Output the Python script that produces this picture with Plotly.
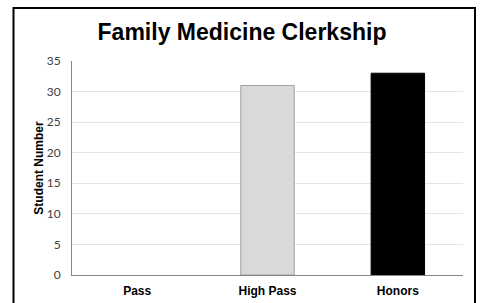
import plotly.graph_objects as go

categories = ["Pass", "High Pass", "Honors"]
values = [0, 31, 33]
bar_colors = ["#d9d9d9", "#d9d9d9", "#000000"]
line_colors = ["#a0a0a0", "#a0a0a0", "#000000"]
line_widths = [0, 1, 1]
y_ticks = [0, 5, 10, 15, 20, 25, 30, 35]

fig = go.Figure(go.Bar(
    x=categories, y=values,
    marker=dict(color=bar_colors, line=dict(color=line_colors, width=line_widths)),
))

fig.update_layout(
    width=480, height=303,
    margin=dict(l=72, r=17, t=61, b=28, autoexpand=False),
    paper_bgcolor="white", plot_bgcolor="white",
    bargap=0.59,
    showlegend=False,
    title=dict(text="<b>Family Medicine Clerkship</b>", x=242 / 480, xanchor="center",
               y=1 - 32 / 303, yanchor="middle", automargin=False,
               font=dict(family="Liberation Sans, Arial", size=23, color="#000000")),
    xaxis=dict(showline=True, linecolor="#868686", linewidth=1, ticks="", automargin=False,
               tickfont=dict(family="Liberation Sans, Arial", size=12, color="#000000"),
               tickprefix="<b>", ticksuffix="</b>", ticklabelstandoff=5),
    yaxis=dict(range=[0, 35], tickvals=y_ticks, showline=True, linecolor="#868686",
               linewidth=1, showgrid=True, gridcolor="#e3e3e3", gridwidth=1,
               zeroline=False, ticks="", automargin=False,
               tickfont=dict(family="Lato, Open Sans", size=12, color="#404040"),
               ticklabelstandoff=8,
               title=dict(text="<b>Student Number</b>", standoff=0,
                          font=dict(family="Liberation Sans, Arial", size=12, color="#000000"))),
    shapes=[dict(type="rect", xref="paper", yref="paper",
                 x0=(13.5 - 72) / 391, x1=(475 - 72) / 391,
                 y0=-0.3, y1=(275 - 8) / 214,
                 line=dict(color="#000000", width=2), fillcolor="rgba(0,0,0,0)",
                 layer="below")],
)

fig.write_html("out.html",
               config={"displayModeBar": False},
               post_script="document.body.style.margin='0';document.body.style.overflow='hidden';")
